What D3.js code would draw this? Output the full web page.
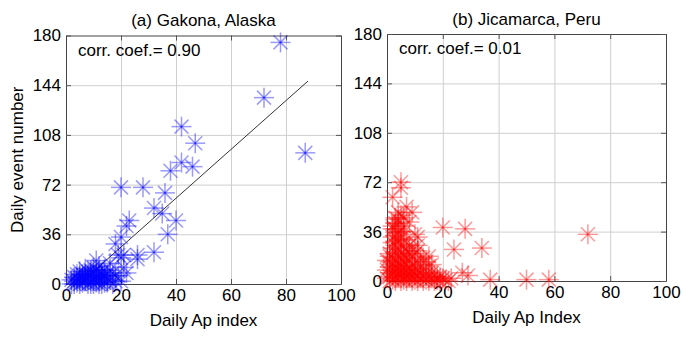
<!DOCTYPE html>
<html>
<head>
<meta charset="utf-8">
<script src="https://cdn.jsdelivr.net/npm/d3@7"></script>
<style>
  body { margin: 0; background: #fff; }
  svg { display: block; font-family: "Liberation Sans", Arial, Helvetica, sans-serif; }
</style>
</head>
<body>
<div id="chart"></div>
<script>
// tick values shared by both panels
const xTicks = [0, 20, 40, 60, 80, 100];
const yTicks = [0, 36, 72, 108, 144, 180];

// [daily Ap, daily event count] - Gakona
const gakonaPoints = [
  [78, 175], [72, 135], [87, 95], [42, 114], [47, 102], [42, 88], [46, 85], [38, 82],
  [20, 70], [28, 70], [36, 66], [32, 55], [35, 51], [40, 46], [37, 36], [32, 23],
  [26, 21], [26, 18], [23, 46], [22, 42], [20, 34], [18, 29], [21, 21], [19, 21],
  [20, 19], [21, 12], [22, 8], [19, 6], [20, 2], [16, 15], [12, 13], [11, 17],
  [14, 10], [17, 8], [15, 4], [13, 6],
  [2, 0], [3, 2], [4, 1], [5, 3], [5, 0], [6, 5], [6, 1], [7, 2], [7, 7], [8, 0],
  [8, 4], [8, 9], [9, 2], [9, 6], [10, 0], [10, 3], [10, 8], [11, 1], [11, 5], [12, 2],
  [12, 9], [13, 0], [13, 4], [14, 1], [3, 5], [4, 7], [4, 4], [5, 9], [6, 3], [7, 11],
  [9, 10], [10, 12], [11, 7], [12, 5], [13, 8], [15, 1], [16, 3], [17, 0], [18, 2], [15, 7],
  [3, 0], [6, 7], [8, 6], [9, 0], [11, 10], [14, 6], [2, 3], [5, 6], [7, 4], [12, 0],
  [16, 10], [18, 6]
];

// least-squares fit line for Gakona (end points)
const gakonaFit = [[6, 2], [88, 147]];

// [daily Ap, daily event count] - Jicamarca
const jicamarcaPoints = [
  [72, 34], [58, 1], [50, 1], [37, 1], [34, 24], [28, 38], [20, 39], [24, 23],
  [27, 6], [29, 4], [23, 2], [19, 3], [15, 18], [13, 17], [5, 72], [5, 68],
  [2, 61], [7, 54], [9, 50], [8, 43], [10, 34], [11, 32],
  [3, 46], [4, 42], [2, 38], [5, 36], [3, 33], [6, 40], [4, 30],
  [1, 0], [1, 3], [1, 6], [1, 10], [1, 14], [1, 20], [2, 1], [2, 5], [2, 8], [2, 12],
  [2, 17], [2, 24], [2, 28], [3, 0], [3, 3], [3, 7], [3, 11], [3, 15], [3, 21], [3, 26],
  [4, 2], [4, 5], [4, 9], [4, 13], [4, 18], [4, 23], [5, 0], [5, 4], [5, 7], [5, 11],
  [5, 16], [5, 20], [5, 27], [6, 1], [6, 3], [6, 6], [6, 10], [6, 14], [6, 19], [6, 25],
  [7, 0], [7, 4], [7, 8], [7, 12], [7, 17], [7, 22], [8, 2], [8, 5], [8, 9], [8, 15],
  [8, 20], [9, 0], [9, 3], [9, 7], [9, 11], [9, 18], [10, 1], [10, 5], [10, 10], [10, 14],
  [11, 0], [11, 4], [11, 8], [11, 22], [12, 2], [12, 6], [12, 12], [13, 0], [13, 3], [13, 9],
  [14, 1], [14, 5], [15, 0], [15, 3], [15, 11], [16, 2], [16, 6], [17, 0], [17, 4], [18, 1],
  [18, 3], [19, 0], [20, 2], [21, 1], [22, 0], [0, 2], [0, 8], [0, 15], [1, 18], [2, 32],
  [3, 38], [4, 45], [5, 48], [3, 42], [4, 35], [5, 31], [6, 36], [2, 40], [7, 30], [8, 26],
  [9, 24], [10, 20], [12, 16], [14, 14], [16, 12], [11, 26], [4, 50], [6, 46], [3, 29]
];

const panels = [
  {
    title: "(a) Gakona, Alaska", xLabel: "Daily Ap index", yLabel: "Daily event number",
    corr: "corr. coef.= 0.90", data: gakonaPoints, fit: gakonaFit, color: "#0000ff",
    left: 66, right: 341, top: 35.5, bottom: 284
  },
  {
    title: "(b) Jicamarca, Peru", xLabel: "Daily Ap Index", yLabel: null,
    corr: "corr. coef.= 0.01", data: jicamarcaPoints, fit: null, color: "#ff0000",
    left: 387, right: 666, top: 34, bottom: 281
  }
];

const width = 700, height = 338;
const svg = d3.select("#chart").append("svg")
  .attr("width", width)
  .attr("height", height);

// asterisk marker: "+" plus "x"
const arms = [[-10, 0, 10, 0], [0, -10, 0, 10], [-7, -7, 7, 7], [-7, 7, 7, -7]];

panels.forEach(p => {
  const x = d3.scaleLinear().domain([0, 100]).range([p.left, p.right]);
  const y = d3.scaleLinear().domain([0, 180]).range([p.bottom, p.top]);
  const g = svg.append("g");

  // grid
  g.append("g")
    .attr("transform", `translate(0,${p.bottom})`)
    .call(d3.axisBottom(x).tickValues(xTicks.slice(1, -1)).tickSize(-(p.bottom - p.top)).tickFormat(""))
    .call(a => a.select(".domain").remove())
    .selectAll("line").attr("stroke", "#cfcfcf");
  g.append("g")
    .attr("transform", `translate(${p.left},0)`)
    .call(d3.axisLeft(y).tickValues(yTicks.slice(1, -1)).tickSize(-(p.right - p.left)).tickFormat(""))
    .call(a => a.select(".domain").remove())
    .selectAll("line").attr("stroke", "#cfcfcf");

  // axes with inward ticks on all four sides
  const bottomAxis = g.append("g")
    .attr("transform", `translate(0,${p.bottom})`)
    .call(d3.axisBottom(x).tickValues(xTicks).tickSizeInner(-5).tickSizeOuter(0).tickPadding(5));
  g.append("g")
    .attr("transform", `translate(0,${p.top})`)
    .call(d3.axisTop(x).tickValues(xTicks).tickSizeInner(-5).tickSizeOuter(0).tickFormat(""));
  const leftAxis = g.append("g")
    .attr("transform", `translate(${p.left},0)`)
    .call(d3.axisLeft(y).tickValues(yTicks).tickSizeInner(-5).tickSizeOuter(0).tickPadding(5));
  g.append("g")
    .attr("transform", `translate(${p.right},0)`)
    .call(d3.axisRight(y).tickValues(yTicks).tickSizeInner(-5).tickSizeOuter(0).tickFormat(""));

  g.selectAll(".domain").attr("stroke", "#444");
  g.selectAll(".tick line").filter(function() { return d3.select(this).attr("stroke") !== "#cfcfcf"; })
    .attr("stroke", "#555");
  [bottomAxis, leftAxis].forEach(a => a.selectAll("text")
    .attr("fill", "#000").attr("font-size", 17)
    .attr("font-family", "'Liberation Sans', Arial, sans-serif"));

  // regression line
  if (p.fit) {
    g.append("line")
      .attr("x1", x(p.fit[0][0])).attr("y1", y(p.fit[0][1]))
      .attr("x2", x(p.fit[1][0])).attr("y2", y(p.fit[1][1]))
      .attr("stroke", "#333").attr("stroke-width", 1);
  }

  // markers
  const marks = g.append("g").selectAll("g")
    .data(p.data)
    .join("g")
    .attr("transform", d => `translate(${x(d[0])},${y(d[1])})`);
  arms.forEach(a => {
    marks.append("line")
      .attr("x1", a[0]).attr("y1", a[1]).attr("x2", a[2]).attr("y2", a[3])
      .attr("stroke", p.color)
      .attr("stroke-opacity", 0.4)
      .attr("stroke-width", 1.5);
  });

  // labels
  const cx = (p.left + p.right) / 2;
  g.append("text")
    .attr("x", cx).attr("y", p.top - 9.5)
    .attr("text-anchor", "middle").attr("font-size", 17)
    .text(p.title);
  g.append("text")
    .attr("x", cx).attr("y", p.bottom + 42)
    .attr("text-anchor", "middle").attr("font-size", 17)
    .text(p.xLabel);
  g.append("text")
    .attr("x", p.left + 12).attr("y", p.top + 20)
    .attr("font-size", 17)
    .text(p.corr);
  if (p.yLabel) {
    g.append("text")
      .attr("transform", `translate(23,${(p.top + p.bottom) / 2}) rotate(-90)`)
      .attr("text-anchor", "middle").attr("font-size", 17)
      .text(p.yLabel);
  }
});
</script>
</body>
</html>
